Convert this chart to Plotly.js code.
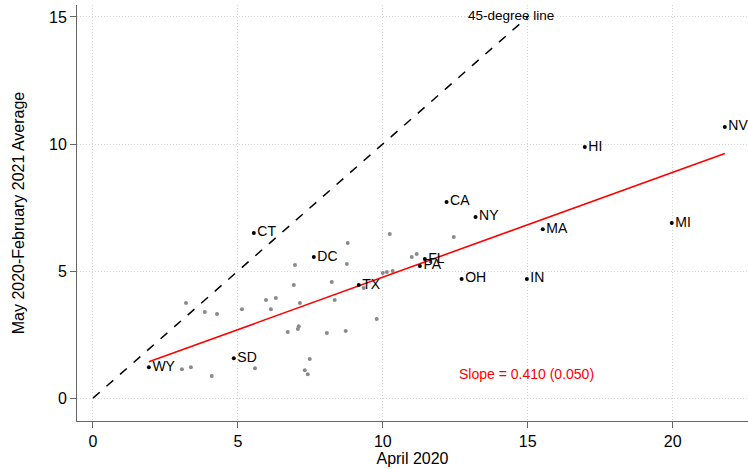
<!DOCTYPE html>
<html>
<head>
<meta charset="utf-8">
<script src="https://cdn.plot.ly/plotly-3.0.1.min.js"></script>
<style>html,body{margin:0;padding:0;background:#fff;}#chart{width:748px;height:469px;}</style>
</head>
<body>
<div id="chart"></div>
<script>
// Labeled states
const labStates = ["WY","SD","CT","DC","TX","FL","PA","CA","NY","OH","IN","MA","HI","MI","NV"];
const labApril  = [1.93, 4.86, 5.55, 7.62, 9.17, 11.45, 11.28, 12.20, 13.20, 12.72, 14.97, 15.52, 16.97, 19.97, 21.80];
const labAvg    = [1.22, 1.57, 6.50, 5.55, 4.45, 5.47, 5.20, 7.72, 7.13, 4.69, 4.69, 6.65, 9.88, 6.89, 10.67];

// Other (unlabeled) states
const othApril = [3.21,3.86,4.28,3.07,3.38,4.10,5.14,5.97,6.31,6.14,6.93,6.97,7.14,8.24,8.34,8.79,8.76,6.72,7.07,7.10,8.07,8.72,7.48,7.31,7.41,5.59,10.24,9.34,10.00,10.14,10.34,11.00,11.17,12.45,9.79];
const othAvg   = [3.74,3.39,3.31,1.14,1.22,0.87,3.50,3.86,3.94,3.50,4.45,5.24,3.74,4.57,3.86,6.10,5.28,2.60,2.72,2.83,2.56,2.64,1.54,1.10,0.94,1.18,6.46,4.33,4.92,4.96,5.00,5.55,5.67,6.34,3.11];

// Fitted line and 45-degree line
const fitX = [1.93, 21.80];
const fitY = [1.43, 9.63];
const diagX = [0, 15];
const diagY = [0, 15];

const xTicks = [0, 5, 10, 15, 20];
const yTicks = [0, 5, 10, 15];
const slopeText = "Slope = 0.410 (0.050)";
const diagText = "45-degree line";

const FONT = "Liberation Sans, Arial, sans-serif";

const traces = [
  {x: diagX, y: diagY, mode: "lines", line: {color: "#000", width: 1.5, dash: "dash"}, hoverinfo: "skip"},
  {x: othApril, y: othAvg, mode: "markers", marker: {color: "#8a8a8a", size: 4}, hoverinfo: "skip"},
  {x: fitX, y: fitY, mode: "lines", line: {color: "#ff0000", width: 1.6}, hoverinfo: "skip"},
  {x: labApril, y: labAvg, mode: "markers+text", text: labStates, textposition: "middle right",
   textfont: {family: FONT, size: 14, color: "#000"}, marker: {color: "#000", size: 4}, cliponaxis: false, hoverinfo: "skip"}
];

const layout = {
  width: 748, height: 469,
  margin: {l: 77, r: 0, t: 5, b: 48},
  paper_bgcolor: "#fff", plot_bgcolor: "#fff",
  showlegend: false,
  font: {family: FONT, size: 16, color: "#000"},
  xaxis: {
    range: [-0.55, 22.6], tickvals: xTicks, ticktext: xTicks.map(String),
    showline: true, linecolor: "#666", linewidth: 1, ticks: "outside", ticklen: 6, tickcolor: "#666",
    showgrid: true, gridcolor: "#d4d4d4", griddash: "1px,2px", gridwidth: 1, zeroline: false,
    tickfont: {size: 16},
    title: {text: "April 2020", font: {size: 16}, standoff: 3}
  },
  yaxis: {
    range: [-0.9, 15.47], tickvals: yTicks, ticktext: yTicks.map(String),
    showline: true, linecolor: "#666", linewidth: 1, ticks: "outside", ticklen: 6, tickcolor: "#666",
    showgrid: true, gridcolor: "#d4d4d4", griddash: "1px,2px", gridwidth: 1, zeroline: false,
    tickfont: {size: 16},
    title: {text: "May 2020-February 2021 Average", font: {size: 16}, standoff: 20}
  },
  annotations: [
    {x: 14.41, y: 15.04, xref: "x", yref: "y", text: diagText, showarrow: false,
     font: {family: FONT, size: 13.5, color: "#000"}},
    {x: 12.55, y: 0.94, xref: "x", yref: "y", text: slopeText, showarrow: false, xanchor: "left",
     font: {family: FONT, size: 14, color: "#ff0000"}}
  ]
};

Plotly.newPlot("chart", traces, layout, {displayModeBar: false, staticPlot: true});
</script>
</body>
</html>
